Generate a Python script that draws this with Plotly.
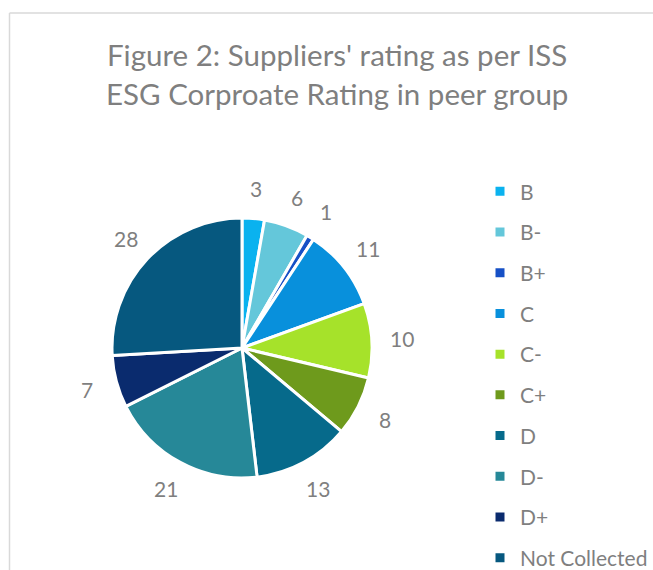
import math
import plotly.graph_objects as go

categories = ["B", "B-", "B+", "C", "C-", "C+", "D", "D-", "D+", "Not Collected"]
values = [3, 6, 1, 11, 10, 8, 13, 21, 7, 28]
colors = ["#0AB2EF", "#64C7DA", "#1650C6", "#0890DC", "#A6E22A",
          "#6E9A1C", "#066A8B", "#268898", "#0A2B6E", "#06587F"]
title_lines = ["Figure 2: Suppliers' rating as per ISS",
               "ESG Corproate Rating in peer group"]

W, H = 653, 570
GRAY = "#7f7f7f"
FONT = "Lato"

# pie geometry (pixels)
CX, CY, R = 242, 348, 130
LABEL_DIST = 160

legend_labels = ["<span style='font-size:21px;baseline-shift:3px'>%s</span>" % c
                 for c in categories]

fig = go.Figure(go.Pie(
    labels=legend_labels,
    values=values,
    sort=False,
    direction="clockwise",
    rotation=0,
    marker=dict(colors=colors, line=dict(color="white", width=3)),
    textinfo="none",
    hoverinfo="label+value",
    domain=dict(x=[(CX - R) / W, (CX + R) / W], y=[(H - CY - R) / H, (H - CY + R) / H]),
    showlegend=True,
))

annotations = []
for line, yc in zip(title_lines, [55, 93]):
    annotations.append(dict(
        text=line, x=337 / W, y=1 - yc / H, xref="paper", yref="paper",
        xanchor="center", yanchor="middle", showarrow=False,
        font=dict(size=29.5, color=GRAY, family=FONT)))

# data labels placed radially outside each slice (angles derived from values)
total = sum(values)
cum = 0
for v in values:
    theta = 2 * math.pi * (cum + v / 2) / total
    cum += v
    px = CX + LABEL_DIST * math.sin(theta)
    py = CY - LABEL_DIST * math.cos(theta)
    annotations.append(dict(
        text=str(v), x=px / W, y=1 - py / H, xref="paper", yref="paper",
        xanchor="center", yanchor="middle", showarrow=False,
        font=dict(size=21, color=GRAY, family=FONT)))

fig.update_layout(
    width=W, height=H,
    margin=dict(l=0, r=0, t=0, b=0, autoexpand=False),
    paper_bgcolor="white",
    plot_bgcolor="white",
    font=dict(family=FONT, color=GRAY),
    annotations=annotations,
    legend=dict(
        x=480 / W, y=1 - 166 / H, xanchor="left", yanchor="top",
        font=dict(size=29, color=GRAY, family=FONT),
        bgcolor="rgba(0,0,0,0)",
    ),
    shapes=[
        dict(type="line", xref="paper", yref="paper", x0=9.5 / W, x1=9.5 / W,
             y0=0, y1=1 - 13 / H, line=dict(color="#d9d9d9", width=1.5)),
        dict(type="line", xref="paper", yref="paper", x0=9.5 / W, x1=1,
             y0=1 - 13 / H, y1=1 - 13 / H, line=dict(color="#d9d9d9", width=1.5)),
    ],
)

fig.write_html("out.html")
